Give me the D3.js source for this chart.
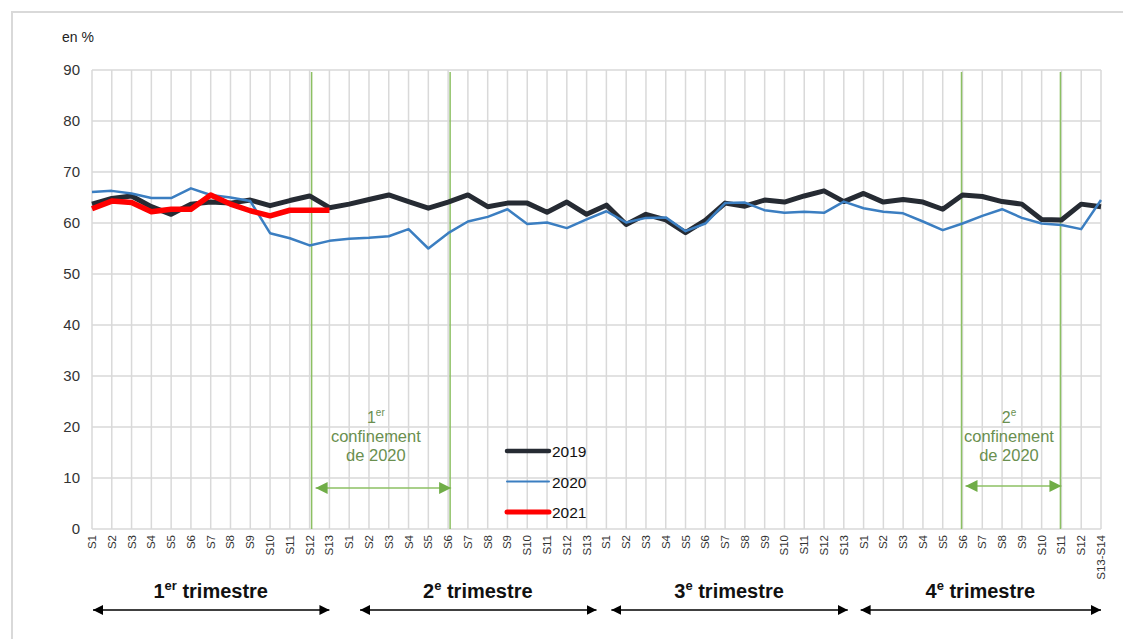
<!DOCTYPE html>
<html>
<head>
<meta charset="utf-8">
<script src="https://cdn.jsdelivr.net/npm/d3@7"></script>
<style>
  body { margin: 0; background: #fff; }
  svg { font-family: "Liberation Sans", Arial, sans-serif; }
</style>
</head>
<body>
<div id="chart"></div>
<script>
// week labels, 4 quarters of 13 points
const weeks = [
  "S1","S2","S3","S4","S5","S6","S7","S8","S9","S10","S11","S12","S13",
  "S1","S2","S3","S4","S5","S6","S7","S8","S9","S10","S11","S12","S13",
  "S1","S2","S3","S4","S5","S6","S7","S8","S9","S10","S11","S12","S13",
  "S1","S2","S3","S4","S5","S6","S7","S8","S9","S10","S11","S12","S13-S14"
];
const v2019 = [
  63.7,64.8,65.3,63.2,61.7,63.7,64.1,63.9,64.5,63.4,64.4,65.3,63.0,
  63.7,64.6,65.5,64.2,62.9,64.1,65.5,63.2,63.9,63.9,62.1,64.1,61.7,
  63.5,59.7,61.7,60.6,58.1,60.5,63.9,63.3,64.5,64.1,65.3,66.3,64.2,
  65.8,64.1,64.6,64.1,62.7,65.5,65.2,64.2,63.7,60.7,60.6,63.7,63.2
];
const v2020 = [
  66.1,66.3,65.8,64.9,64.9,66.8,65.5,65.0,64.3,58.0,57.0,55.6,56.5,
  56.9,57.1,57.4,58.8,55.0,58.0,60.3,61.2,62.7,59.8,60.1,59.0,60.7,
  62.3,60.1,61.0,61.1,58.4,59.9,63.9,64.0,62.5,62.0,62.2,62.0,64.2,
  62.9,62.2,61.9,60.3,58.6,59.9,61.4,62.7,61.0,59.9,59.6,58.8,64.5
];
const v2021 = [62.8,64.3,64.0,62.2,62.7,62.7,65.5,63.7,62.4,61.4,62.5,62.5,62.5];
const yTicks = [0,10,20,30,40,50,60,70,80,90];
const quarters = ["1", "2", "3", "4"];
const quarterSup = ["er", "e", "e", "e"];

const W = 1123, H = 639;
const mLeft = 92, mRight = 1101, mTop = 70, mBottom = 529;

const svg = d3.select("#chart").append("svg").attr("width", W).attr("height", H);

// outer frame
svg.append("path").attr("d", `M12,${H} L12,12 L${W},12`)
  .attr("fill", "none").attr("stroke", "#d9d9d9").attr("stroke-width", 2);

const x = d3.scaleLinear().domain([0, weeks.length - 1]).range([mLeft, mRight]);
const y = d3.scaleLinear().domain([0, 90]).range([mBottom, mTop]);

// grid
svg.append("g").selectAll("line").data(yTicks).enter().append("line")
  .attr("x1", mLeft).attr("x2", mRight)
  .attr("y1", d => y(d)).attr("y2", d => y(d))
  .attr("stroke", "#d9d9d9").attr("stroke-width", 1.5);
svg.append("g").selectAll("line").data(weeks).enter().append("line")
  .attr("x1", (d, i) => x(i)).attr("x2", (d, i) => x(i))
  .attr("y1", mTop).attr("y2", mBottom)
  .attr("stroke", "#d9d9d9").attr("stroke-width", 1.5);

// y labels
svg.append("g").selectAll("text").data(yTicks).enter().append("text")
  .attr("x", 80).attr("y", d => y(d) + 5)
  .attr("text-anchor", "end").attr("font-size", 15).attr("fill", "#333")
  .text(d => d);
svg.append("text").attr("x", 62).attr("y", 42).attr("font-size", 14).attr("fill", "#222").text("en %");

// x labels rotated
svg.append("g").selectAll("text").data(weeks).enter().append("text")
  .attr("transform", (d, i) => `translate(${x(i) + 4},535) rotate(-90)`)
  .attr("text-anchor", "end").attr("font-size", 11.5).attr("fill", "#333")
  .text(d => d);

// confinement markers
const green = "#8cc063";
const confIdx = [11, 18, 44, 49];
svg.append("g").selectAll("line").data(confIdx).enter().append("line")
  .attr("x1", d => x(d) + (d < 30 ? 2 : -1)).attr("x2", d => x(d) + (d < 30 ? 2 : -1))
  .attr("y1", mTop + 2).attr("y2", mBottom)
  .attr("stroke", green).attr("stroke-width", 1.5);

const defs = svg.append("defs");
function marker(id, color, w, h) {
  defs.append("marker").attr("id", id + "e").attr("viewBox", "0 0 10 10")
    .attr("refX", 10).attr("refY", 5).attr("markerWidth", w).attr("markerHeight", h)
    .attr("markerUnits", "userSpaceOnUse").attr("orient", "auto")
    .append("path").attr("d", "M0,0 L10,5 L0,10 Z").attr("fill", color);
  defs.append("marker").attr("id", id + "s").attr("viewBox", "0 0 10 10")
    .attr("refX", 0).attr("refY", 5).attr("markerWidth", w).attr("markerHeight", h)
    .attr("markerUnits", "userSpaceOnUse").attr("orient", "auto")
    .append("path").attr("d", "M10,0 L0,5 L10,10 Z").attr("fill", color);
}
marker("g", "#70ad47", 13, 12);
marker("k", "#000", 10, 11);

const confs = [
  { a: 11, b: 18, num: "1", sup: "er", ay: 488, dx: 2 },
  { a: 44, b: 49, num: "2", sup: "e", ay: 486, dx: -1 }
];
confs.forEach(c => {
  const cx = (x(c.a) + x(c.b)) / 2 - 3;
  const t1 = svg.append("text").attr("x", cx).attr("y", 423).attr("text-anchor", "middle")
    .attr("font-size", 16).attr("fill", "#6a8f4f");
  t1.append("tspan").text(c.num);
  t1.append("tspan").attr("font-size", 10).attr("dy", -7).text(c.sup);
  svg.append("text").attr("x", cx).attr("y", 442).attr("text-anchor", "middle")
    .attr("font-size", 16.5).attr("fill", "#6a8f4f").text("confinement");
  svg.append("text").attr("x", cx).attr("y", 461).attr("text-anchor", "middle")
    .attr("font-size", 16.5).attr("fill", "#6a8f4f").text("de 2020");
  svg.append("line").attr("x1", x(c.a) + c.dx + 4).attr("x2", x(c.b) + c.dx + 1)
    .attr("y1", c.ay).attr("y2", c.ay)
    .attr("stroke", "#8cc063").attr("stroke-width", 1.5)
    .attr("marker-start", "url(#gs)").attr("marker-end", "url(#ge)");
});

// series
const line = d3.line().x((d, i) => x(i)).y(d => y(d));
const series = [
  { name: "2019", data: v2019, color: "#262b33", w: 5 },
  { name: "2020", data: v2020, color: "#3b7ec1", w: 2.5 },
  { name: "2021", data: v2021, color: "#ff0000", w: 5.5 }
];
series.forEach(s => {
  svg.append("path").datum(s.data).attr("d", line)
    .attr("fill", "none").attr("stroke", s.color).attr("stroke-width", s.w)
    .attr("stroke-linejoin", "round");
});

// legend
const lg = svg.append("g").attr("transform", "translate(507,451)");
series.forEach((s, i) => {
  const yy = i * 30.5;
  lg.append("line").attr("x1", 0).attr("x2", 42).attr("y1", yy).attr("y2", yy)
    .attr("stroke", s.color).attr("stroke-width", s.w - 0.5).attr("stroke-linecap", "round");
  lg.append("text").attr("x", 45).attr("y", yy + 6).attr("font-size", 15.5).attr("fill", "#111").text(s.name);
});

// quarter labels and arrows
const qRanges = [[0, 12], [13.5, 25.5], [26.2, 38.2], [38.8, 51]];
quarters.forEach((q, i) => {
  const [a, b] = qRanges[i];
  const cx = (x(a) + x(b)) / 2;
  const t = svg.append("text").attr("x", cx).attr("y", 598).attr("text-anchor", "middle")
    .attr("font-size", 20).attr("font-weight", "bold").attr("fill", "#111");
  t.append("tspan").text(q);
  t.append("tspan").attr("font-size", 13).attr("dy", -8).text(quarterSup[i]);
  t.append("tspan").attr("dy", 8).text(" trimestre");
  svg.append("line").attr("x1", x(a) + 1).attr("x2", x(b)).attr("y1", 610).attr("y2", 610)
    .attr("stroke", "#000").attr("stroke-width", 1.5)
    .attr("marker-start", "url(#ks)").attr("marker-end", "url(#ke)");
});
</script>
</body>
</html>
